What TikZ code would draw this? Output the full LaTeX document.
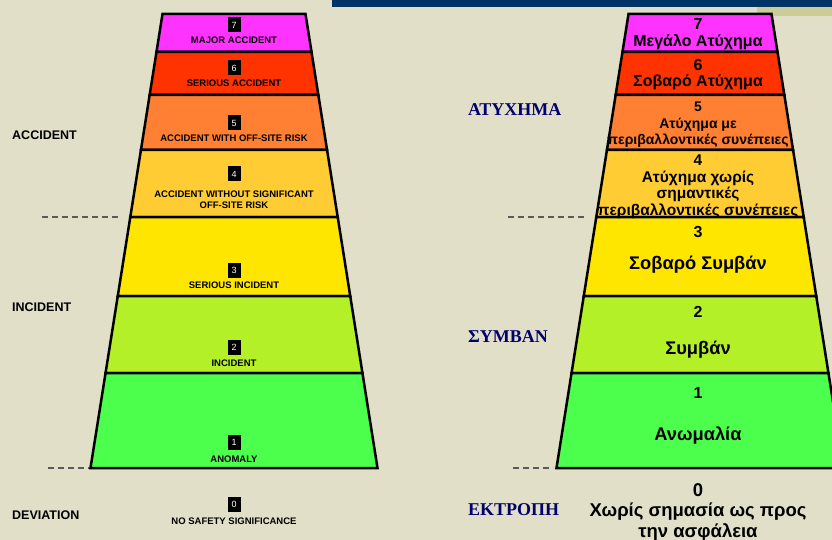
\documentclass[tikz,border=0pt]{standalone}
\usepackage{fontspec}
\setmainfont{Liberation Sans}
\newfontfamily\greekserif{Liberation Serif}
\definecolor{bgcol}{RGB}{226,223,200}
\definecolor{barcol}{RGB}{0,51,102}
\definecolor{olivecol}{RGB}{204,204,153}
\definecolor{lvseven}{RGB}{255,51,255}
\definecolor{lvsix}{RGB}{255,51,0}
\definecolor{lvfive}{RGB}{255,128,51}
\definecolor{lvfour}{RGB}{255,204,51}
\definecolor{lvthree}{RGB}{255,230,0}
\definecolor{lvtwo}{RGB}{180,240,40}
\definecolor{lvone}{RGB}{76,255,76}
\definecolor{navytxt}{RGB}{0,0,110}
\definecolor{dashcol}{RGB}{90,90,90}

\begin{document}
\begin{tikzpicture}[x=1pt,y=-1pt,
	layer/.style={draw=black,line width=2.5pt,line join=miter},
	numbox/.style={fill=black,text=white,inner sep=0pt,minimum width=13pt,minimum height=15pt,font=\fontsize{9}{9}\selectfont},
	entxt/.style={inner sep=0pt,align=center,font=\bfseries\fontsize{9.5}{11}\selectfont},
	grtxt/.style={inner sep=0pt,align=center,font=\bfseries\fontsize{16}{20}\selectfont},
	grbig/.style={inner sep=0pt,align=center,font=\bfseries\fontsize{18.3}{18}\selectfont},
	grsmall/.style={inner sep=0pt,align=center,font=\bfseries\fontsize{14}{16.5}\selectfont},
	sidetxt/.style={inner sep=0pt,anchor=west,font=\bfseries\fontsize{12.5}{12}\selectfont},
	grside/.style={inner sep=0pt,anchor=west,text=navytxt,font=\greekserif\bfseries\fontsize{18}{18}\selectfont},
	levelline/.style={dashcol,line width=1.5pt,dash pattern=on 6pt off 4pt}]
	\useasboundingbox (0,0) rectangle (832,540);
	\clip (0,0) rectangle (832,540);
	\fill[bgcol] (0,0) rectangle (832,540);
	\fill[barcol] (332,0) rectangle (832,7);
	\fill[olivecol] (757,7) rectangle (832,16);
	
	% the two pyramids, same shape, second one moved right
	\foreach \yt/\yb/\c in {14/52/lvseven, 52/95/lvsix, 95/150/lvfive, 150/217/lvfour, 217/296/lvthree, 296/373/lvtwo, 373/468/lvone}{
		\pgfmathsetmacro\ht{71.5+0.1586*(\yt-14)}
		\pgfmathsetmacro\hb{71.5+0.1586*(\yb-14)}
		\foreach \cx in {234,700}{
			\filldraw[layer,fill=\c] (\cx-\ht,\yt) -- (\cx+\ht,\yt) -- (\cx+\hb,\yb) -- (\cx-\hb,\yb) -- cycle;
		}
	}
	
	\draw[levelline] (42,217) -- (120,217);
	\draw[levelline] (48,468) -- (89,468);
	\draw[levelline] (508,217) -- (587,217);
	\draw[levelline] (513,468) -- (553,468);
	
	\node (accident) at (12,135) [sidetxt]{ACCIDENT};
	\node (incident) at (12,307) [sidetxt]{INCIDENT};
	\node (deviation) at (12,515) [sidetxt]{DEVIATION};
	
	\node (n7) at (234,25) [numbox]{7};
	\node (l7) at (234,40) [entxt]{MAJOR ACCIDENT};
	\node (n6) at (234,68) [numbox]{6};
	\node (l6) at (234,83) [entxt]{SERIOUS ACCIDENT};
	\node (n5) at (234,123) [numbox]{5};
	\node (l5) at (234,138) [entxt]{ACCIDENT WITH OFF-SITE RISK};
	\node (n4) at (234,174) [numbox]{4};
	\node (l4) at (234,200) [entxt]{ACCIDENT WITHOUT SIGNIFICANT\\OFF-SITE RISK};
	\node (n3) at (234,270) [numbox]{3};
	\node (l3) at (234,285) [entxt]{SERIOUS INCIDENT};
	\node (n2) at (234,347) [numbox]{2};
	\node (l2) at (234,363) [entxt]{INCIDENT};
	\node (n1) at (234,442) [numbox]{1};
	\node (l1) at (234,459) [entxt]{ANOMALY};
	\node (n0) at (234,504) [numbox]{0};
	\node (l0) at (234,521) [entxt]{NO SAFETY SIGNIFICANCE};
	
	\node (atyxhma) at (468,110) [grside]{ΑΤΥΧΗΜΑ};
	\node (symvan) at (468,337) [grside]{ΣΥΜΒΑΝ};
	\node (ektroph) at (468,510) [grside]{ΕΚΤΡΟΠΗ};
	
	\node (g7a) at (698,24) [grtxt]{7};
	\node (g7b) at (698,42) [grtxt]{Μεγάλο Ατύχημα};
	\node (g6a) at (698,65) [grtxt]{6};
	\node (g6b) at (698,82) [grtxt]{Σοβαρό Ατύχημα};
	\node (g5) at (698,125) [grsmall]{5\\Ατύχημα με\\περιβαλλοντικές συνέπειες};
	\node (g4) at (698,187) [grsmall,font=\bfseries\fontsize{15.5}{16.5}\selectfont]{4\\Ατύχημα χωρίς\\σημαντικές\\περιβαλλοντικές συνέπειες};
	\node (g3a) at (698,232) [grtxt]{3};
	\node (g3b) at (698,265) [grbig]{Σοβαρό Συμβάν};
	\node (g2a) at (698,312) [grtxt]{2};
	\node (g2b) at (698,350) [grbig]{Συμβάν};
	\node (g1a) at (698,393) [grtxt]{1};
	\node (g1b) at (698,435) [grbig]{Ανωμαλία};
	\node (g0) at (698,512) [grbig,font=\bfseries\fontsize{18.5}{20.5}\selectfont]{0\\Χωρίς σημασία ως προς\\την ασφάλεια};
\end{tikzpicture}
\end{document}
